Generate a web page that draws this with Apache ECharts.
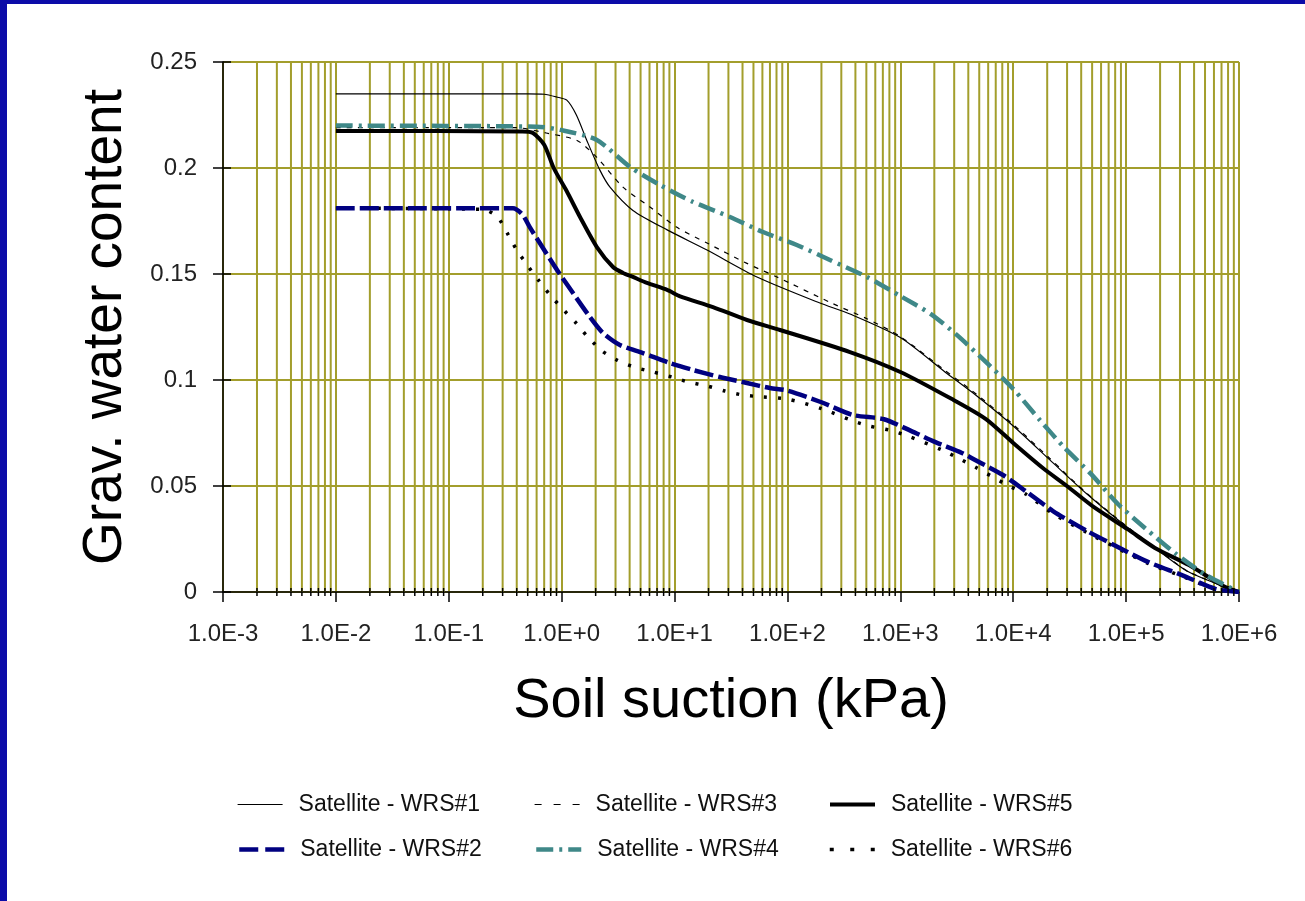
<!DOCTYPE html>
<html>
<head>
<meta charset="utf-8">
<title>Soil water characteristic curves</title>
<script src="https://cdn.jsdelivr.net/npm/echarts@6/dist/echarts.min.js"></script>
<style>
  html, body { margin: 0; padding: 0; background: #ffffff; }
  #chart { position: absolute; left: 0; top: 0; width: 1305px; height: 901px; }
  .band { position: absolute; background: #0b0ba8; }
</style>
</head>
<body>
<div id="chart"></div>
<div class="band" style="left:0;top:0;width:1305px;height:4px"></div>
<div class="band" style="left:0;top:0;width:7px;height:901px"></div>
<script>
// Soil suction (kPa) vs gravimetric water content, six samples.
const seriesNames = [
  'Satellite - WRS#1', 'Satellite - WRS#2', 'Satellite - WRS#3',
  'Satellite - WRS#4', 'Satellite - WRS#5', 'Satellite - WRS#6'
];

const wrs1 = [
  [0.01, 0.235], [0.5, 0.235], [0.7, 0.2348], [0.9, 0.2335], [1.11, 0.232],
  [1.35, 0.225], [1.67, 0.213], [2.18, 0.199], [2.68, 0.191], [4.28, 0.180],
  [8.6, 0.1708], [19.4, 0.1613], [53.7, 0.1486], [194, 0.1363], [358, 0.1311],
  [1000, 0.120], [2485, 0.1038], [4300, 0.0943], [10000, 0.0783], [21100, 0.0623],
  [45000, 0.0462], [104000, 0.0302], [180000, 0.0208], [360000, 0.0094], [1000000, 0]
];

const wrs2 = [
  [0.01, 0.181], [0.37, 0.181], [0.45, 0.178], [0.52, 0.1722], [0.64, 0.1646],
  [0.91, 0.1519], [1.26, 0.141], [1.78, 0.1297], [2.32, 0.1222], [3.28, 0.1165],
  [5.25, 0.1127], [9.1, 0.108], [14.6, 0.1047], [25.2, 0.1014], [43.8, 0.0986],
  [70, 0.0962], [100, 0.095], [200, 0.0895], [380, 0.0835], [716, 0.0815],
  [1241, 0.076], [2024, 0.0708], [3513, 0.0656], [4966, 0.0613], [8110, 0.0552],
  [12900, 0.0476], [22500, 0.0382], [45000, 0.0288], [78000, 0.0222],
  [156000, 0.0142], [312000, 0.008], [624000, 0.0014], [1000000, 0]
];

const wrs3 = [
  [0.01, 0.219], [0.4, 0.219], [0.73, 0.2165], [1.37, 0.213], [2.05, 0.205],
  [3.49, 0.191], [6.05, 0.1816], [10.5, 0.172], [19.4, 0.1646], [43.8, 0.155],
  [80.7, 0.1486], [253, 0.136], [500, 0.129], [1000, 0.1205], [2485, 0.1045],
  [4300, 0.095], [10000, 0.079], [21100, 0.063], [45000, 0.0465], [104000, 0.0305],
  [180000, 0.021], [360000, 0.0095], [1000000, 0]
];

const wrs4 = [
  [0.01, 0.22], [0.6, 0.2195], [0.97, 0.218], [2.05, 0.2132], [4.03, 0.2005],
  [7.43, 0.192], [14.6, 0.184], [31, 0.1769], [60.7, 0.1698], [121, 0.1637],
  [238, 0.1566], [506, 0.1486], [1000, 0.1396], [1866, 0.1311], [3236, 0.1208],
  [6095, 0.1071], [10000, 0.0958], [17200, 0.0811], [28100, 0.0684], [48800, 0.0557],
  [84600, 0.0415], [146600, 0.0302], [270000, 0.0184], [509000, 0.008], [1000000, 0]
];

const wrs5 = [
  [0.01, 0.2175], [0.45, 0.2172], [0.557, 0.2165], [0.7, 0.211], [0.85, 0.2],
  [1.11, 0.189], [1.45, 0.177], [2.05, 0.1627], [2.85, 0.1533], [3.5, 0.1505],
  [4.28, 0.1486], [5.7, 0.1458], [8.6, 0.1425], [11.2, 0.1395], [21.9, 0.1344],
  [43.8, 0.1283], [85.9, 0.1236], [358, 0.1132], [1000, 0.1038], [2864, 0.091],
  [5730, 0.0816], [10000, 0.0703], [18300, 0.0585], [29900, 0.050], [51900, 0.040],
  [104000, 0.0295], [180000, 0.0208], [360000, 0.0127], [720000, 0.003], [1000000, 0]
];

const wrs6 = [
  [0.01, 0.181], [0.2, 0.1805], [0.27, 0.1769], [0.33, 0.1693], [0.40, 0.1613],
  [0.51, 0.1533], [0.62, 0.1472], [0.79, 0.1401], [1.0, 0.134], [1.34, 0.1269],
  [1.67, 0.1208], [2.28, 0.1137], [3.09, 0.1094], [4.37, 0.1061], [6.44, 0.1038],
  [9.5, 0.1014], [13.1, 0.0991], [19.4, 0.0972], [27.9, 0.0948], [40.3, 0.0929],
  [60.7, 0.092], [100, 0.091], [200, 0.0865], [380, 0.0807], [527, 0.0783],
  [793, 0.0764], [1167, 0.0736], [2335, 0.067], [3236, 0.0632], [4580, 0.059],
  [9160, 0.05], [12900, 0.0462], [22500, 0.037], [45000, 0.028], [78000, 0.0215],
  [156000, 0.0135], [312000, 0.0075], [624000, 0.0012], [1000000, 0]
];

// Axis ticks
const xDecades = [1e-3, 1e-2, 1e-1, 1e0, 1e1, 1e2, 1e3, 1e4, 1e5, 1e6];
const xMinorSteps = [2, 3, 4, 5, 6, 7, 8, 9];
const yTicks = [0, 0.05, 0.1, 0.15, 0.2, 0.25];

const FONT = '"Liberation Sans", Arial, Helvetica, sans-serif';
const GRID_COLOR = '#a39e2c';
const NAVY = '#000080';
const TEAL = '#3f8888';

// minor log positions 2..9 within each decade
const xMinor = [];
xDecades.slice(0, -1).forEach(d => xMinorSteps.forEach(k => xMinor.push(k * d)));

// line styles per series: colour, width, dash (plot and legend key)
const styles = {};
styles[seriesNames[0]] = { color: '#000', width: 1.2, type: 'solid', key: 'solid', z: 6 };
styles[seriesNames[1]] = { color: NAVY, width: 4.5, type: [19, 5], key: [19, 7], z: 9 };
styles[seriesNames[2]] = { color: '#000', width: 1.2, type: [5, 6], key: [7, 12], z: 6 };
styles[seriesNames[3]] = { color: TEAL, width: 4.5, type: [17, 6, 3, 6], key: [17, 6, 3, 6], z: 8 };
styles[seriesNames[4]] = { color: '#000', width: 4, type: 'solid', key: 'solid', z: 7 };
styles[seriesNames[5]] = { color: '#000', width: 3.5, type: [3, 11], key: [4, 16.5], z: 5 };

function curve(name, data) {
  const s = styles[name];
  return {
    name: name,
    type: 'line',
    data: data,
    showSymbol: false,
    symbol: 'none',
    smooth: 0.25,
    z: s.z,
    silent: true,
    animation: false,
    lineStyle: { color: s.color, width: s.width, type: s.type, cap: 'butt', join: 'round' },
    itemStyle: { color: s.color }
  };
}

const chart = echarts.init(document.getElementById('chart'), null, { renderer: 'canvas' });

// one legend entry per slot, laid out as two rows of three
const legendSlots = [
  { name: seriesNames[0], left: 237, top: 793 },
  { name: seriesNames[2], left: 534, top: 793 },
  { name: seriesNames[4], left: 828, top: 793 },
  { name: seriesNames[1], left: 237, top: 838 },
  { name: seriesNames[3], left: 534, top: 838 },
  { name: seriesNames[5], left: 828, top: 838 }
];

const option = {
  backgroundColor: '#ffffff',
  animation: false,
  textStyle: { fontFamily: FONT },
  grid: { left: 223, right: 66, top: 62, bottom: 309, containLabel: false },
  legend: legendSlots.map(s => ({
    data: [s.name],
    left: s.left,
    top: s.top,
    orient: 'horizontal',
    padding: 0,
    itemWidth: 45,
    itemHeight: 14,
    selectedMode: false,
    itemStyle: { opacity: 0 },
    lineStyle: {
      color: styles[s.name].color,
      width: styles[s.name].width,
      type: styles[s.name].key,
      cap: 'butt'
    },
    textStyle: { fontFamily: FONT, fontSize: 23, color: '#111', padding: [0, 0, 0, 11] }
  })),
  xAxis: {
    type: 'log',
    logBase: 10,
    min: xDecades[0],
    max: xDecades[xDecades.length - 1],
    splitNumber: 9,
    name: 'Soil suction (kPa)',
    nameLocation: 'middle',
    nameGap: 82,
    nameTextStyle: { fontFamily: FONT, fontSize: 56, color: '#000' },
    axisLine: { show: true, onZero: false, lineStyle: { color: '#000', width: 1.5 } },
    axisTick: { show: true, length: 10, lineStyle: { color: '#000', width: 1.5 } },
    axisLabel: {
      fontFamily: FONT, fontSize: 24, color: '#222', margin: 30,
      formatter: v => Number(v).toExponential(1).toUpperCase()
    },
    splitLine: { show: true, lineStyle: { color: GRID_COLOR, width: 2 } }
  },
  yAxis: {
    type: 'value',
    min: yTicks[0],
    max: yTicks[yTicks.length - 1],
    interval: 0.05,
    name: 'Grav. water content',
    nameLocation: 'middle',
    nameRotate: 90,
    nameGap: 90,
    nameTextStyle: { fontFamily: FONT, fontSize: 55, color: '#000' },
    axisLine: { show: true, onZero: false, lineStyle: { color: '#000', width: 1.5 } },
    axisTick: { show: false },
    axisLabel: {
      fontFamily: FONT, fontSize: 24, color: '#222', margin: 26,
      formatter: v => String(Number(v.toFixed(2)))
    },
    splitLine: { show: true, lineStyle: { color: GRID_COLOR, width: 2 } }
  },
  series: [
    // minor vertical grid lines at 2..9 of every decade
    {
      name: 'minor-grid',
      type: 'custom',
      silent: true,
      z: 1,
      data: xMinor.map(v => [v, yTicks[0]]),
      encode: { x: 0, y: 1 },
      renderItem: (params, api) => {
        const v = api.value(0);
        const p0 = api.coord([v, yTicks[0]]);
        const p1 = api.coord([v, yTicks[yTicks.length - 1]]);
        return {
          type: 'line',
          shape: { x1: p0[0], y1: p0[1], x2: p1[0], y2: p1[1] },
          style: { stroke: GRID_COLOR, lineWidth: 2 }
        };
      }
    },
    // minor tick marks crossing the x axis
    {
      name: 'x-minor-ticks',
      type: 'custom',
      silent: true,
      z: 20,
      data: xMinor.map(v => [v, yTicks[0]]),
      encode: { x: 0, y: 1 },
      renderItem: (params, api) => {
        const p = api.coord([api.value(0), api.value(1)]);
        return {
          type: 'line',
          shape: { x1: p[0], y1: p[1] - 4, x2: p[0], y2: p[1] + 4 },
          style: { stroke: '#000', lineWidth: 1.5 }
        };
      }
    },
    // tick marks crossing the y axis
    {
      name: 'y-ticks',
      type: 'custom',
      silent: true,
      z: 20,
      data: yTicks.map(v => [xDecades[0], v]),
      encode: { x: 0, y: 1 },
      renderItem: (params, api) => {
        const p = api.coord([api.value(0), api.value(1)]);
        return {
          type: 'line',
          shape: { x1: p[0] - 10, y1: p[1], x2: p[0] + 8, y2: p[1] },
          style: { stroke: '#000', lineWidth: 1.5 }
        };
      }
    },
    curve(seriesNames[5], wrs6),
    curve(seriesNames[0], wrs1),
    curve(seriesNames[2], wrs3),
    curve(seriesNames[4], wrs5),
    curve(seriesNames[3], wrs4),
    curve(seriesNames[1], wrs2)
  ]
};

chart.setOption(option);
</script>
</body>
</html>
